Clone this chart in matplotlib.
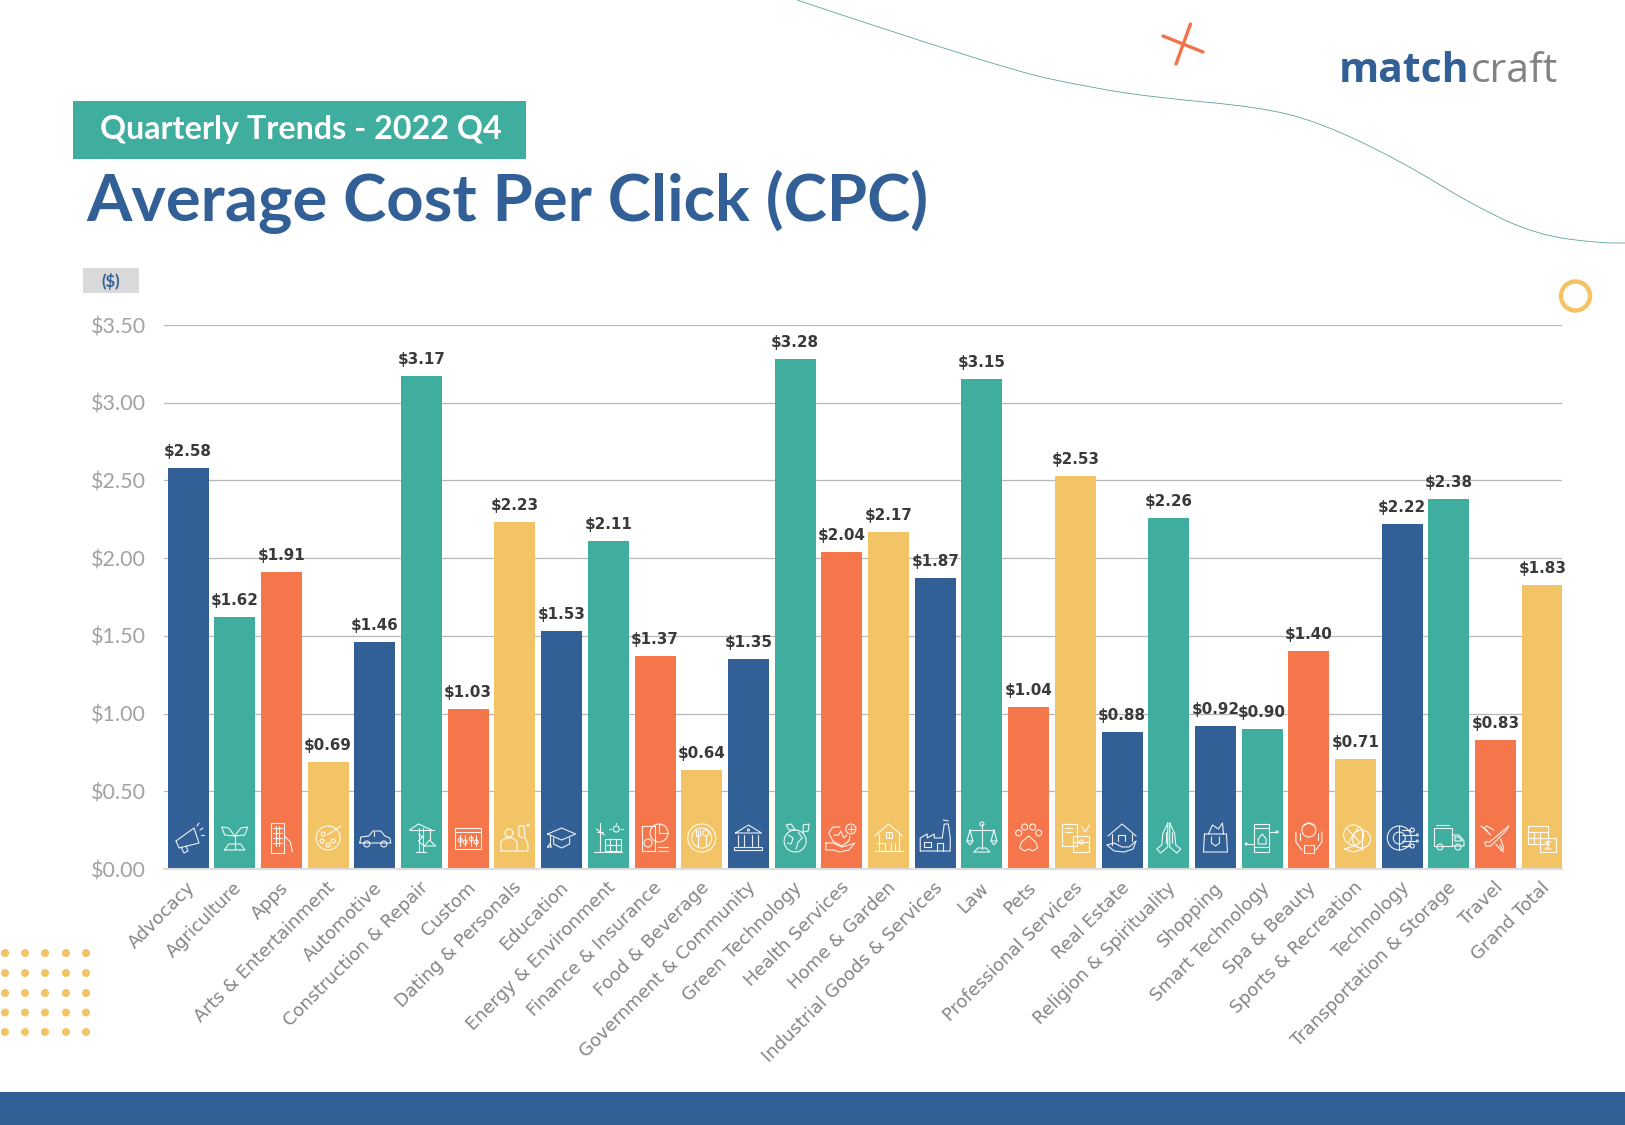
import matplotlib
matplotlib.use("Agg")
import matplotlib.pyplot as plt
from matplotlib.patches import Rectangle, Circle, PathPatch
from matplotlib.path import Path
from matplotlib.transforms import offset_copy

# Data
categories = ["Advocacy", "Agriculture", "Apps", "Arts & Entertainment", "Automotive",
              "Construction & Repair", "Custom", "Dating & Personals", "Education",
              "Energy & Environment", "Finance & Insurance", "Food & Beverage",
              "Government & Community", "Green Technology", "Health Services",
              "Home & Garden", "Industrial Goods & Services", "Law", "Pets",
              "Professional Services", "Real Estate", "Religion & Spirituality",
              "Shopping", "Smart Technology", "Spa & Beauty", "Sports & Recreation",
              "Technology", "Transportation & Storage", "Travel", "Grand Total"]
cpc = [2.58, 1.62, 1.91, 0.69, 1.46, 3.17, 1.03, 2.23, 1.53, 2.11, 1.37, 0.64, 1.35, 3.28, 2.04,
       2.17, 1.87, 3.15, 1.04, 2.53, 0.88, 2.26, 0.92, 0.90, 1.40, 0.71, 2.22, 2.38, 0.83, 1.83]
y_ticks = [0, 0.5, 1.0, 1.5, 2.0, 2.5, 3.0, 3.5]

BLUE = "#326096"
TEAL = "#3fae9f"
ORANGE = "#f5764a"
YELLOW = "#f3c466"
bar_colors = [BLUE, TEAL, ORANGE, YELLOW] * 5 + [BLUE, TEAL] + [BLUE, TEAL, ORANGE, YELLOW] * 2

# Icons: pixel offsets from the icon centre, polylines and (x, y, r) circles
icons = [
    [[(-12,3),(6,-10),(11,5),(-9,10),(-12,3)], [(-7,9),(-4,15),(0,13),(-2,8)], [(9,-12),(11,-15)], [(12,-8),(15,-10)], [(13,-3),(16,-3)]],
    [[(0,11),(0,-2)], [(0,-2),(-6,-10),(-13,-11),(-10,-3),(0,-2)], [(0,-2),(6,-10),(13,-11),(10,-3),(0,-2)], [(-10,12),(-6,6),(6,6),(10,12),(-10,12)]],
    [[(-10,-15),(3,-15),(3,15),(-10,15),(-10,-15)], [(-8,-10),(1,-10)], [(-8,-5),(1,-5)], [(-8,0),(1,0)], [(-8,5),(1,5)], [(-5,-12),(-5,8)], [(-2,-12),(-2,8)], [(3,-2),(9,4),(11,14)]],
    [(0,0,12), (-5,-4,2), (-6,3,2), (0,7,2), (5,3,2), [(-1,-3),(13,-12)]],
    [[(-15,5),(-14,-1),(-6,-2),(-2,-7),(6,-7),(10,-2),(15,0),(16,5),(-15,5)], (-8,6,3), (9,6,3), [(-1,-6),(-1,-2)]],
    [[(-3,-10),(-3,14)], [(1,-10),(1,14)], [(-12,-8),(12,-8)], [(-3,-14),(-12,-8)], [(-3,-14),(10,-8)], [(-3,-4),(1,-1)], [(1,-1),(-3,3)], [(-3,3),(1,7)], [(8,-8),(8,2)], [(3,8),(8,2),(14,8),(3,8)], [(-6,14),(4,14)]],
    [[(-13,-10),(13,-10),(13,11),(-13,11),(-13,-10)], [(-13,-6),(13,-6)], [(-8,-3),(-8,8)], [(-3,-3),(-3,8)], [(3,-3),(3,8)], [(8,-3),(8,8)], (-8,2,2), (-3,4,2), (3,1,2), (8,4,2)],
    [(-6,-5,4), [(-14,13),(-14,3),(-9,0),(-3,0),(2,3),(2,13),(-14,13)], [(4,-12),(9,-12),(10,0),(13,6),(13,13),(2,13)], [(4,-12),(4,-2),(8,0)], (13,-13,1)],
    [[(-14,-4),(0,-10),(14,-4),(0,2),(-14,-4)], [(-8,0),(-8,6),(0,10),(8,6),(8,0)], [(-12,-3),(-12,7)], [(-14,9),(-12,6),(-10,9),(-14,9)]],
    [[(-8,-15),(-8,13)], [(-11,-6),(-5,-6)], [(-12,-9),(-4,-3)], [(-3,1),(13,1),(13,13),(-3,13),(-3,1)], [(-3,7),(13,7)], [(2,1),(2,13)], [(8,1),(8,13)], (8,-9,3), [(8,-14),(8,-15)], [(13,-9),(15,-9)], [(3,-9),(1,-9)], [(-14,14),(14,14)]],
    [[(-13,-12),(0,-12),(0,13),(-13,13),(-13,-12)], (4,-5,9), [(4,-5),(4,-14)], [(4,-5),(13,-5)], (-7,5,4), [(3,9),(13,9)], [(3,13),(13,13)]],
    [(0,0,14), (0,0,10), [(-4,-8),(-4,8)], [(-6,-8),(-6,-2),(-2,-2),(-2,-8)], [(4,-2),(4,8)], (4,-5,3)],
    [[(-13,-5),(0,-13),(13,-5),(-13,-5)], (0,-8,1), [(-10,-3),(-10,8)], [(-4,-3),(-4,8)], [(4,-3),(4,8)], [(10,-3),(10,8)], [(-14,9),(14,9),(14,12),(-14,12),(-14,9)]],
    [(0,3,11), [(-7,-3),(-2,0),(-4,6),(-8,5)], [(3,-6),(7,0),(3,4),(1,11)], [(0,-8),(-4,-14),(-9,-13),(-6,-8),(0,-8)], [(8,-6),(8,-13),(14,-14),(13,-7),(8,-6)]],
    [[(-2,-11),(-9,-11),(-13,-5),(-9,3),(0,8),(7,3),(8,-2)], (9,-9,5), [(9,-12),(9,-6)], [(6,-9),(12,-9)], [(-8,-3),(-3,-3),(-1,-7),(2,0),(5,-3)], [(-16,5),(-9,5),(0,9),(7,7),(13,5),(7,12),(-2,14),(-9,12),(-16,12),(-16,5)]],
    [[(-14,-2),(0,-14),(14,-2)], [(-10,-4),(-10,13),(10,13),(10,-4)], [(-3,-6),(3,-6),(3,0),(-3,0),(-3,-6)], [(0,-6),(0,0)], [(-4,13),(-4,5),(-12,5)], [(2,5),(2,13)], [(6,5),(6,13)], [(-14,13),(14,13)]],
    [[(-15,13),(-15,0),(-8,-4),(-8,0),(-1,-4),(-1,0),(7,0),(9,-14),(13,-14),(15,0),(15,13),(-15,13)], [(-11,4),(-4,4),(-4,9),(-11,9),(-11,4)], [(2,13),(2,5),(8,5),(8,13)], [(8,-18),(13,-17)]],
    [[(0,-14),(0,11)], [(-12,-8),(12,-8)], [(-12,-8),(-15,3),(-9,3),(-12,-8)], [(12,-8),(9,3),(15,3),(12,-8)], [(-15,3),(-12,7),(-9,3)], [(9,3),(12,7),(15,3)], [(-8,14),(-4,10),(4,10),(8,14),(-8,14)], (0,-14,2)],
    [[(-7,4),(0,-2),(7,4),(9,10),(4,13),(0,11),(-4,13),(-9,10),(-7,4)], (-10,-5,3), (10,-5,3), (-4,-11,3), (4,-11,3)],
    [[(-13,-14),(2,-14),(2,8),(-13,8),(-13,-14)], [(-2,-2),(14,-2),(14,14),(-2,14),(-2,-2)], [(-2,4),(14,4)], (6,4,2), [(-10,-10),(-3,-10)], [(-10,-6),(-3,-6)], [(6,-12),(10,-6),(14,-13)]],
    [[(-14,-2),(0,-14),(14,-2)], [(-10,-4),(-10,7)], [(10,-4),(10,3)], [(-4,3),(-4,-3),(3,-3),(3,3)], [(-15,7),(-8,5),(0,9),(7,9),(14,3),(11,11),(2,14),(-8,13),(-15,7)]],
    [[(-1,-15),(-6,-4),(-7,7),(-12,11),(-8,15),(-1,9),(-1,-15)], [(1,-15),(6,-4),(7,7),(12,11),(8,15),(1,9),(1,-15)], [(-3,-6),(-3,5)], [(3,-6),(3,5)]],
    [[(-11,-4),(11,-4),(12,14),(-12,14),(-11,-4)], [(-4,-1),(-4,5),(0,8),(4,5),(4,-1)], [(-7,-4),(-3,-13),(3,-9),(7,-15),(8,-4)]],
    [[(-8,-14),(7,-14),(7,14),(-8,14),(-8,-14)], [(-8,9),(7,9)], [(-8,-10),(7,-10)], [(-4,1),(0,-4),(4,1),(4,6),(-4,6),(-4,1)], [(7,-6),(14,-6)], [(-8,6),(-16,6)], (15,-6,1), (-16,6,1)],
    [(0,-8,7), [(-6,-12),(0,-15),(6,-12)], [(-5,15),(-5,7),(5,7),(5,15),(-5,15)], [(-13,-6),(-13,4),(-7,12)], [(13,-6),(13,4),(7,12)], [(-9,-5),(-9,2)], [(9,-5),(9,2)]],
    [(-2,-3,10), (6,1,9), [(-11,11),(-2,8),(8,11),(-2,14),(-11,11)], [(-8,-9),(4,4)], [(3,-11),(-7,4)], [(6,-7),(6,9)]],
    [(-3,0,12), (-3,0,6), [(-3,-12),(-3,12)], [(0,-8),(8,-8)], [(0,-3),(13,-3)], [(0,3),(13,3)], [(0,8),(8,8)], (10,-8,2), (15,-3,1), (15,3,1), (10,8,2)],
    [[(-15,-10),(3,-10),(3,8),(-15,8),(-15,-10)], [(3,-3),(10,-3),(15,3),(15,8),(3,8)], [(-13,-13),(0,-13)], (-9,9,3), (9,9,3), [(6,-1),(10,-1),(13,3),(6,3),(6,-1)]],
    [[(13,-12),(-6,4),(-11,4),(-10,8),(-5,8),(11,-8),(13,-12)], [(-2,-8),(-9,-12),(-12,-10),(-5,-3)], [(5,1),(8,10),(6,13),(0,6)], [(-15,-12),(-8,-7)], [(4,7),(8,14)]],
    [[(-14,-12),(6,-12),(6,6),(-14,6),(-14,-12)], [(-14,-6),(6,-6)], [(-14,0),(-2,0)], [(-8,-6),(-8,6)], [(-2,-6),(-2,6)], [(-2,0),(14,0),(14,14),(-2,14),(-2,0)], [(9,4),(3,4),(7,7),(3,11),(9,11)]],
]

fig = plt.figure(figsize=(16.25, 11.25), dpi=100, facecolor="white")

# Chart axes, placed in pixels of the page
left, right, top, bottom = 164, 1562, 325, 869
ax = fig.add_axes([left / 1625, 1 - bottom / 1125, (right - left) / 1625, (bottom - top) / 1125])
ax.set_xlim(-0.514, 29.42)
ax.set_ylim(0, 3.5)
ax.set_axisbelow(True)
ax.yaxis.grid(True, color="#b8b8b8", linewidth=0.9)
ax.xaxis.grid(False)
for s in ax.spines.values():
    s.set_visible(False)
ax.spines["bottom"].set_visible(True)
ax.spines["bottom"].set_color("#dddddd")
ax.spines["bottom"].set_linewidth(1.5)

x = list(range(len(categories)))
ax.bar(x, cpc, width=0.878, color=bar_colors, zorder=2)
for i, v in zip(x, cpc):
    ax.annotate(f"${v:.2f}", (i, v), xytext=(0, 9), textcoords="offset pixels", ha="center", va="bottom",
                fontsize=10.9, fontweight="bold", color="#3a3a3a", family="DejaVu Sans", zorder=5)

ax.set_yticks(y_ticks)
ax.set_yticklabels([f"${v:.2f}" for v in y_ticks], fontsize=15.5, color="#a2a2a2", family="Lato")
ax.set_xticks(x)
ax.set_xticklabels(categories, rotation=45, ha="right", va="top", rotation_mode="anchor",
                   fontsize=12.9, color="#858585", family="DejaVu Sans")
ax.tick_params(axis="both", length=0)
ax.tick_params(axis="x", pad=9)
ax.tick_params(axis="y", pad=13)
for lab in ax.get_xticklabels():
    lab.set_transform(offset_copy(lab.get_transform(), fig=fig, x=-2, y=3, units="dots"))

# Page overlay in pixels
page = fig.add_axes([0, 0, 1, 1], zorder=10)
page.set_xlim(0, 1625)
page.set_ylim(1125, 0)
page.axis("off")
page.patch.set_alpha(0)

page.add_patch(Rectangle((0, 1092), 1625, 33, color=BLUE, lw=0))
page.add_patch(Rectangle((73, 101), 453, 57.5, color=TEAL, lw=0))
page.text(100, 130, "Quarterly Trends - 2022 Q4", color="white", fontsize=23.2, fontweight="bold", family="Lato", va="center")
page.text(86, 221, "Average Cost Per Click (CPC)", color=BLUE, fontsize=47, fontweight="bold", family="Lato", va="baseline")
page.add_patch(Rectangle((83, 268), 56, 25, color="#d9d9d9", lw=0))
page.text(111, 281, "($)", color=BLUE, fontsize=12, fontweight="bold", family="Lato", ha="center", va="center")

# logo
logo_a = page.text(1339, 82, "match", color=BLUE, fontsize=29.4, fontweight="bold", family="Open Sans", va="baseline")
page.annotate("craft", xy=(1, 0), xycoords=logo_a, xytext=(1, 0), textcoords="offset pixels",
              color="#808285", fontsize=29.4, family="Open Sans", va="bottom")

# swoosh, cross, ring, dots
curve = [(797, 0), (1000, 68), (1092, 88), (1160, 98), (1259, 107), (1319, 122), (1399, 160),
         (1478, 208), (1538, 235), (1598, 243), (1625, 243)]
verts, codes = [curve[0]], [Path.MOVETO]
for a, b in zip(curve[1:-1], curve[2:]):
    verts += [a, ((a[0] + b[0]) / 2, (a[1] + b[1]) / 2)]
    codes += [Path.CURVE3, Path.CURVE3]
verts.append(curve[-1])
codes.append(Path.LINETO)
page.add_patch(PathPatch(Path(verts, codes), fc="none", ec="#5fa39c", lw=0.6))
page.plot([1163, 1203], [36, 52], color="#f0734a", lw=2.4, solid_capstyle="round")
page.plot([1190.5, 1176], [24, 64], color="#f0734a", lw=2.4, solid_capstyle="round")
page.add_patch(Circle((1575.5, 296), 14.5, fc="none", ec=YELLOW, lw=3.2))
for dx in [5, 25, 45, 66, 86]:
    for dy in [953, 973, 993, 1012.5, 1032]:
        page.add_patch(Circle((dx, dy), 4, color=YELLOW, lw=0))

# bar icons
fig.canvas.draw()
for i, icon in enumerate(icons):
    cx = ax.transData.transform((i, 0))[0]
    cy = 838
    for part in icon:
        if isinstance(part, tuple):
            page.add_patch(Circle((cx + part[0], cy + part[1]), part[2], fc="none", ec="white", lw=0.8, alpha=0.9))
        else:
            page.plot([cx + p[0] for p in part], [cy + p[1] for p in part], color="white", lw=0.8, alpha=0.9,
                      solid_joinstyle="round", solid_capstyle="round")

fig.savefig("out.png", dpi=100, facecolor="white")
